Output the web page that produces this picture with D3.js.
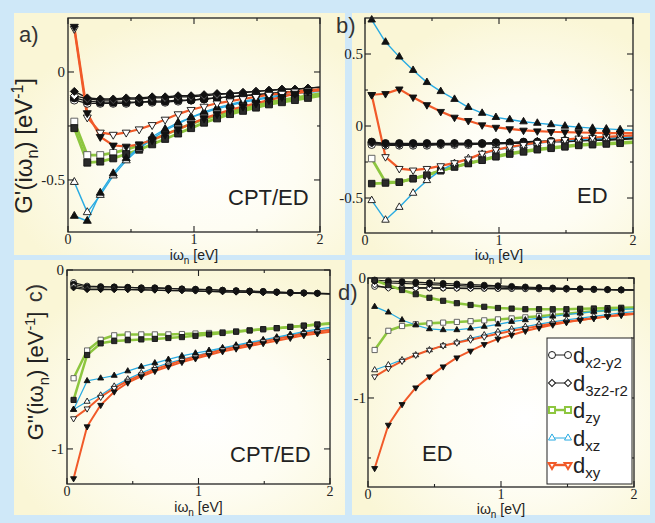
<!DOCTYPE html>
<html>
<head>
<meta charset="utf-8">
<script src="https://cdn.jsdelivr.net/npm/d3@7"></script>
<style>
  body { margin: 0; background: #cfe8f8; }
  svg { display: block; }
</style>
</head>
<body>
<svg id="fig" width="655" height="523"></svg>
<script>
// Matsubara frequencies (eV); lines run on to xEnd
const omegaN = [0.05, 0.153, 0.256, 0.359, 0.462, 0.565, 0.668, 0.771, 0.874, 0.977,
  1.08, 1.183, 1.286, 1.389, 1.492, 1.595, 1.698, 1.801, 1.904];
const xEnd = 2;

const orbitals = ["x2-y2", "3z2-r2", "zy", "xz", "xy"];

// a) G'(iw_n), CPT/ED   [orbital, filled marker, values at omegaN + end]
const seriesA = [
  ["x2-y2", false, [-0.13,-0.145,-0.145,-0.145,-0.145,-0.14,-0.14,-0.14,-0.135,-0.13,-0.125,-0.12,-0.115,-0.11,-0.105,-0.10,-0.095,-0.09,-0.085,-0.08]],
  ["x2-y2", true,  [-0.12,-0.135,-0.14,-0.14,-0.14,-0.14,-0.135,-0.135,-0.13,-0.13,-0.125,-0.12,-0.115,-0.11,-0.105,-0.10,-0.095,-0.09,-0.085,-0.08]],
  ["3z2-r2", false, [-0.11,-0.125,-0.13,-0.13,-0.125,-0.125,-0.12,-0.12,-0.115,-0.115,-0.11,-0.105,-0.10,-0.095,-0.09,-0.085,-0.08,-0.08,-0.075,-0.07]],
  ["3z2-r2", true,  [-0.09,-0.12,-0.125,-0.125,-0.12,-0.12,-0.115,-0.115,-0.11,-0.11,-0.105,-0.10,-0.10,-0.095,-0.09,-0.085,-0.08,-0.08,-0.075,-0.07]],
  ["zy", false, [-0.23,-0.385,-0.385,-0.375,-0.36,-0.34,-0.315,-0.29,-0.265,-0.24,-0.22,-0.20,-0.185,-0.17,-0.155,-0.14,-0.13,-0.12,-0.11,-0.10]],
  ["zy", true,  [-0.26,-0.42,-0.415,-0.40,-0.38,-0.36,-0.335,-0.31,-0.285,-0.26,-0.235,-0.215,-0.195,-0.18,-0.165,-0.15,-0.14,-0.13,-0.12,-0.11]],
  ["xz", false, [-0.51,-0.65,-0.57,-0.48,-0.41,-0.355,-0.31,-0.27,-0.24,-0.21,-0.19,-0.17,-0.155,-0.14,-0.13,-0.12,-0.11,-0.10,-0.095,-0.09]],
  ["xz", true,  [-0.667,-0.69,-0.56,-0.47,-0.40,-0.35,-0.30,-0.265,-0.235,-0.21,-0.185,-0.165,-0.15,-0.135,-0.125,-0.115,-0.105,-0.10,-0.09,-0.085]],
  ["xy", false, [0.20,-0.21,-0.28,-0.29,-0.28,-0.265,-0.245,-0.22,-0.195,-0.175,-0.16,-0.145,-0.135,-0.125,-0.115,-0.105,-0.10,-0.09,-0.085,-0.08]],
  ["xy", true,  [0.21,-0.19,-0.30,-0.34,-0.345,-0.335,-0.315,-0.29,-0.265,-0.24,-0.215,-0.195,-0.175,-0.16,-0.145,-0.13,-0.115,-0.10,-0.09,-0.085]]
];

// b) G'(iw_n), ED
const seriesB = [
  ["x2-y2", false, [-0.13,-0.135,-0.135,-0.135,-0.135,-0.13,-0.13,-0.13,-0.125,-0.125,-0.12,-0.12,-0.115,-0.11,-0.11,-0.105,-0.10,-0.10,-0.095,-0.09]],
  ["x2-y2", true,  [-0.11,-0.12,-0.12,-0.12,-0.12,-0.12,-0.12,-0.12,-0.12,-0.115,-0.115,-0.11,-0.11,-0.105,-0.10,-0.10,-0.095,-0.09,-0.09,-0.085]],
  ["3z2-r2", false, [-0.12,-0.13,-0.13,-0.13,-0.13,-0.128,-0.125,-0.125,-0.12,-0.12,-0.115,-0.115,-0.11,-0.105,-0.105,-0.10,-0.095,-0.095,-0.09,-0.085]],
  ["3z2-r2", true,  [-0.115,-0.125,-0.125,-0.125,-0.125,-0.125,-0.12,-0.12,-0.12,-0.115,-0.115,-0.11,-0.105,-0.105,-0.10,-0.095,-0.095,-0.09,-0.085,-0.08]],
  ["zy", false, [-0.226,-0.39,-0.39,-0.365,-0.34,-0.31,-0.285,-0.26,-0.235,-0.21,-0.19,-0.175,-0.16,-0.15,-0.14,-0.13,-0.125,-0.12,-0.115,-0.11]],
  ["zy", true,  [-0.40,-0.396,-0.39,-0.366,-0.343,-0.31,-0.284,-0.26,-0.238,-0.214,-0.195,-0.18,-0.165,-0.155,-0.145,-0.135,-0.13,-0.125,-0.12,-0.115]],
  ["xz", false, [-0.517,-0.653,-0.564,-0.466,-0.378,-0.308,-0.26,-0.226,-0.196,-0.168,-0.15,-0.135,-0.12,-0.11,-0.10,-0.095,-0.09,-0.085,-0.08,-0.075]],
  ["xz", true,  [0.737,0.583,0.48,0.387,0.303,0.24,0.186,0.13,0.089,0.06,0.045,0.03,0.02,0.01,0.0,-0.008,-0.015,-0.02,-0.025,-0.03]],
  ["xy", false, [0.217,-0.214,-0.296,-0.307,-0.296,-0.277,-0.256,-0.23,-0.19,-0.165,-0.145,-0.13,-0.115,-0.105,-0.095,-0.085,-0.08,-0.075,-0.07,-0.065]],
  ["xy", true,  [0.217,0.224,0.256,0.2,0.147,0.1,0.06,0.037,0.007,-0.01,-0.02,-0.03,-0.035,-0.04,-0.042,-0.045,-0.047,-0.05,-0.05,-0.05]]
];

// c) G''(iw_n), CPT/ED
const seriesC = [
  ["x2-y2", false, [-0.07,-0.09,-0.093,-0.095,-0.097,-0.1,-0.1,-0.103,-0.106,-0.108,-0.11,-0.113,-0.116,-0.118,-0.12,-0.123,-0.126,-0.128,-0.13,-0.132]],
  ["x2-y2", true,  [-0.08,-0.095,-0.095,-0.095,-0.097,-0.1,-0.1,-0.103,-0.106,-0.108,-0.11,-0.113,-0.116,-0.118,-0.12,-0.123,-0.126,-0.128,-0.13,-0.132]],
  ["3z2-r2", false, [-0.09,-0.105,-0.107,-0.108,-0.109,-0.11,-0.112,-0.114,-0.115,-0.117,-0.119,-0.121,-0.123,-0.125,-0.127,-0.128,-0.13,-0.131,-0.132,-0.134]],
  ["3z2-r2", true,  [-0.1,-0.11,-0.11,-0.11,-0.11,-0.112,-0.113,-0.115,-0.116,-0.118,-0.12,-0.122,-0.124,-0.125,-0.127,-0.128,-0.13,-0.131,-0.132,-0.134]],
  ["zy", false, [-0.605,-0.45,-0.39,-0.365,-0.36,-0.36,-0.36,-0.36,-0.358,-0.355,-0.352,-0.348,-0.343,-0.337,-0.331,-0.325,-0.318,-0.311,-0.304,-0.298]],
  ["zy", true,  [-0.726,-0.475,-0.41,-0.397,-0.392,-0.388,-0.385,-0.38,-0.375,-0.368,-0.36,-0.352,-0.345,-0.338,-0.331,-0.325,-0.318,-0.311,-0.305,-0.30]],
  ["xz", false, [-0.78,-0.735,-0.70,-0.65,-0.61,-0.575,-0.545,-0.52,-0.50,-0.48,-0.46,-0.44,-0.425,-0.41,-0.395,-0.38,-0.365,-0.35,-0.34,-0.33]],
  ["xz", true,  [-0.78,-0.62,-0.605,-0.59,-0.565,-0.54,-0.52,-0.50,-0.48,-0.465,-0.45,-0.435,-0.42,-0.405,-0.39,-0.375,-0.36,-0.345,-0.33,-0.32]],
  ["xy", false, [-0.83,-0.775,-0.71,-0.66,-0.62,-0.585,-0.555,-0.53,-0.505,-0.485,-0.465,-0.445,-0.43,-0.415,-0.40,-0.385,-0.37,-0.355,-0.345,-0.335]],
  ["xy", true,  [-1.165,-0.875,-0.755,-0.68,-0.63,-0.595,-0.565,-0.54,-0.515,-0.495,-0.475,-0.455,-0.44,-0.425,-0.41,-0.395,-0.38,-0.365,-0.355,-0.345]]
];

// d) G''(iw_n), ED
const seriesD = [
  ["x2-y2", false, [-0.07,-0.078,-0.08,-0.08,-0.082,-0.083,-0.084,-0.085,-0.086,-0.087,-0.088,-0.089,-0.09,-0.091,-0.092,-0.094,-0.096,-0.098,-0.1,-0.1]],
  ["x2-y2", true,  [-0.017,-0.025,-0.03,-0.035,-0.04,-0.045,-0.05,-0.055,-0.06,-0.065,-0.07,-0.075,-0.08,-0.083,-0.087,-0.09,-0.093,-0.096,-0.099,-0.1]],
  ["3z2-r2", false, [-0.058,-0.086,-0.085,-0.085,-0.085,-0.086,-0.087,-0.088,-0.089,-0.09,-0.091,-0.092,-0.093,-0.094,-0.095,-0.096,-0.097,-0.098,-0.099,-0.1]],
  ["3z2-r2", true,  [-0.03,-0.04,-0.045,-0.05,-0.055,-0.06,-0.064,-0.068,-0.072,-0.075,-0.078,-0.081,-0.084,-0.087,-0.09,-0.092,-0.094,-0.096,-0.098,-0.1]],
  ["zy", false, [-0.60,-0.44,-0.40,-0.385,-0.378,-0.372,-0.366,-0.36,-0.353,-0.345,-0.337,-0.328,-0.318,-0.308,-0.298,-0.288,-0.278,-0.268,-0.258,-0.25]],
  ["zy", true,  [-0.02,-0.06,-0.1,-0.135,-0.165,-0.19,-0.21,-0.225,-0.24,-0.25,-0.255,-0.26,-0.26,-0.26,-0.26,-0.257,-0.254,-0.251,-0.248,-0.245]],
  ["xz", false, [-0.767,-0.725,-0.683,-0.642,-0.6,-0.564,-0.536,-0.503,-0.475,-0.447,-0.425,-0.405,-0.385,-0.365,-0.35,-0.335,-0.32,-0.305,-0.29,-0.28]],
  ["xz", true,  [-0.239,-0.286,-0.35,-0.392,-0.425,-0.433,-0.433,-0.42,-0.405,-0.386,-0.364,-0.35,-0.335,-0.32,-0.305,-0.292,-0.28,-0.27,-0.262,-0.258]],
  ["xy", false, [-0.822,-0.753,-0.692,-0.642,-0.6,-0.564,-0.54,-0.515,-0.49,-0.465,-0.44,-0.42,-0.40,-0.38,-0.365,-0.35,-0.335,-0.32,-0.305,-0.295]],
  ["xy", true,  [-1.586,-1.225,-1.053,-0.914,-0.822,-0.739,-0.664,-0.608,-0.553,-0.508,-0.475,-0.442,-0.415,-0.39,-0.37,-0.35,-0.335,-0.32,-0.31,-0.30]]
];

const xMajor = [0, 1, 2];
const xMinor = [0.5, 1.5];

// styling
const orbStyle = {
  "x2-y2":  { color: "#1a1a1a", width: 1.3, shape: "circle" },
  "3z2-r2": { color: "#1a1a1a", width: 1.3, shape: "diamond" },
  "zy":     { color: "#8dc63f", width: 2.8, shape: "square" },
  "xz":     { color: "#29abe2", width: 1.4, shape: "triangle" },
  "xy":     { color: "#f15a29", width: 2.2, shape: "down" }
};

const serif = "'Liberation Serif', 'DejaVu Serif', serif";
const sans = "'Liberation Sans', Arial, sans-serif";

const svg = d3.select("#fig");
const defs = svg.append("defs");
const grad = defs.append("radialGradient").attr("id", "glow")
  .attr("cx", "58%").attr("cy", "62%").attr("r", "62%");
grad.append("stop").attr("offset", "0%").attr("stop-color", "#ffffff");
grad.append("stop").attr("offset", "45%").attr("stop-color", "#fefdf3");
grad.append("stop").attr("offset", "100%").attr("stop-color", "#faf6d6");

svg.append("rect").attr("width", 655).attr("height", 523).attr("fill", "#cfe8f8");

// yellow panel cards
[[14, 13, 331, 242], [352, 13, 298, 242], [14, 260, 331, 255], [352, 260, 298, 255]].forEach(b => {
  svg.append("rect").attr("x", b[0]).attr("y", b[1]).attr("width", b[2]).attr("height", b[3])
    .attr("fill", "url(#glow)");
});

function markerPath(shape, w) {
  if (shape === "circle") return d3.symbol(d3.symbolCircle, Math.PI * w * w / 4)();
  if (shape === "square") return d3.symbol(d3.symbolSquare, w * w * 0.75)();
  if (shape === "diamond") return d3.symbol(d3.symbolSquare, w * w * 0.5)();
  return d3.symbol(d3.symbolTriangle, w * w * Math.sqrt(3) / 4)();
}
function markerRot(shape) {
  return shape === "diamond" ? 45 : shape === "down" ? 180 : 0;
}

const panels = [
  { id: "a", series: seriesA, xr: [68, 320], yr: [18, 232], yd: [-0.741, 0.25],
    yMajor: [-0.5, 0], yMinor: [-0.25], ms: 8, lw: 1, titleY: 260, yLabGap: 3 },
  { id: "b", series: seriesB, xr: [365, 633], yr: [18, 233], yd: [-0.743, 0.75],
    yMajor: [-0.5, 0, 0.5], yMinor: [-0.25, 0.25], ms: 7.5, lw: 1, titleY: 260, yLabGap: 2 },
  { id: "c", series: seriesC, xr: [67, 330], yr: [270, 484], yd: [-1.196, 0],
    yMajor: [-1, 0], yMinor: [-0.5], ms: 6, lw: 0.9, titleY: 512, yLabGap: 3 },
  { id: "d", series: seriesD, xr: [368, 634], yr: [278, 487], yd: [-1.742, 0],
    yMajor: [-1, 0], yMinor: [-0.5, -1.5], ms: 6, lw: 0.9, titleY: 514, yLabGap: 2 }
];

panels.forEach(p => {
  const x = d3.scaleLinear().domain([0, 2]).range(p.xr);
  const y = d3.scaleLinear().domain(p.yd).range([p.yr[1], p.yr[0]]);
  const g = svg.append("g");

  defs.append("clipPath").attr("id", "clip-" + p.id).append("rect")
    .attr("x", p.xr[0]).attr("y", p.yr[0])
    .attr("width", p.xr[1] - p.xr[0]).attr("height", p.yr[1] - p.yr[0]);

  const line = d3.line().x(d => x(d[0])).y(d => y(d[1]));
  const plot = g.append("g").attr("clip-path", "url(#clip-" + p.id + ")");

  orbitals.forEach(orb => {
    const st = orbStyle[orb];
    p.series.filter(s => s[0] === orb).forEach(s => {
      const pts = s[2].map((v, i) => [i < omegaN.length ? omegaN[i] : xEnd, v]);
      plot.append("path").attr("d", line(pts)).attr("fill", "none")
        .attr("stroke", st.color).attr("stroke-width", st.width * p.lw)
        .attr("stroke-linejoin", "round");
      g.selectAll(null).data(pts.slice(0, omegaN.length)).enter().append("path")
        .attr("d", markerPath(st.shape, p.ms))
        .attr("transform", d => `translate(${x(d[0])},${y(d[1])}) rotate(${markerRot(st.shape)})`)
        .attr("fill", s[1] ? (orb === "zy" ? "#2a2a2a" : "#111") : "#fff")
        .attr("stroke", orb === "zy" && !s[1] ? "#555" : "#111")
        .attr("stroke-width", 0.9);
    });
  });

  // frame
  g.append("rect").attr("x", p.xr[0]).attr("y", p.yr[0])
    .attr("width", p.xr[1] - p.xr[0]).attr("height", p.yr[1] - p.yr[0])
    .attr("fill", "none").attr("stroke", "#222").attr("stroke-width", 1.3);

  const tk = g.append("g").attr("stroke", "#222").attr("stroke-width", 1.1);
  const xt = xMajor.map(v => [v, 6]).concat(xMinor.map(v => [v, 3]));
  xt.forEach(([v, len]) => {
    tk.append("line").attr("x1", x(v)).attr("x2", x(v)).attr("y1", p.yr[1]).attr("y2", p.yr[1] - len);
    tk.append("line").attr("x1", x(v)).attr("x2", x(v)).attr("y1", p.yr[0]).attr("y2", p.yr[0] + len);
  });
  const yt = p.yMajor.map(v => [v, 6]).concat(p.yMinor.map(v => [v, 3]));
  yt.forEach(([v, len]) => {
    tk.append("line").attr("y1", y(v)).attr("y2", y(v)).attr("x1", p.xr[0]).attr("x2", p.xr[0] + len);
    tk.append("line").attr("y1", y(v)).attr("y2", y(v)).attr("x1", p.xr[1]).attr("x2", p.xr[1] - len);
  });

  g.selectAll(null).data(xMajor).enter().append("text")
    .attr("x", d => x(d)).attr("y", p.yr[1] + 12)
    .attr("text-anchor", "middle").attr("font-family", serif).attr("font-size", 14)
    .attr("fill", "#222").text(d => d);
  g.selectAll(null).data(p.yMajor).enter().append("text")
    .attr("x", p.xr[0] - p.yLabGap).attr("y", d => y(d)).attr("dy", "0.33em")
    .attr("text-anchor", "end").attr("font-family", serif).attr("font-size", 15)
    .attr("fill", "#222").text(d => d);

  // x axis title
  const xl = svg.append("text").attr("x", x(1)).attr("y", p.titleY)
    .attr("text-anchor", "middle").attr("font-family", sans).attr("font-size", 14).attr("fill", "#222");
  xl.append("tspan").text("iω");
  xl.append("tspan").attr("dy", 4).attr("font-size", 10).text("n");
  xl.append("tspan").attr("dy", -4).text(" [eV]");
});

// CPT / ED tags
[["CPT/ED", 228, 205], ["ED", 577, 203], ["CPT/ED", 230, 462], ["ED", 422, 461]].forEach(t => {
  svg.append("text").attr("x", t[1]).attr("y", t[2]).attr("font-family", sans)
    .attr("font-size", 22).attr("fill", "#222").text(t[0]);
});

// panel letters
[["a)", 19, 42], ["b)", 336, 33], ["d)", 338, 300]].forEach(t => {
  svg.append("text").attr("x", t[1]).attr("y", t[2]).attr("font-family", sans)
    .attr("font-size", 22).attr("fill", "#333").text(t[0]);
});

function yTitle(cx, cy, size, prime) {
  const t = svg.append("text").attr("transform", `translate(${cx},${cy}) rotate(-90)`)
    .attr("text-anchor", "middle").attr("font-family", sans).attr("font-size", size).attr("fill", "#222");
  t.append("tspan").text("G" + prime + "(iω");
  t.append("tspan").attr("dy", size * 0.25).attr("font-size", size * 0.68).text("n");
  t.append("tspan").attr("dy", -size * 0.25).text(") [eV");
  t.append("tspan").attr("dy", -size * 0.38).attr("font-size", size * 0.65).text("-1");
  t.append("tspan").attr("dy", size * 0.38).text("]");
}
yTitle(32, 146, 24, "'");
yTitle(43, 376, 22, "''");
svg.append("text").attr("transform", "translate(42,293) rotate(-90)")
  .attr("text-anchor", "middle").attr("font-family", sans).attr("font-size", 22)
  .attr("fill", "#333").text("c)");

// legend (panel d)
const leg = svg.append("g");
leg.append("rect").attr("x", 547).attr("y", 338).attr("width", 85).attr("height", 146)
  .attr("fill", "#fff").attr("stroke", "#222").attr("stroke-width", 1);
const legBase = [363, 391, 418, 446, 473];
const legSub = ["x2-y2", "3z2-r2", "zy", "xz", "xy"];
orbitals.forEach((orb, i) => {
  const st = orbStyle[orb];
  const yy = legBase[i] - 8;
  const heavy = orb === "zy" || orb === "xy";
  leg.append("line").attr("x1", 552).attr("x2", 568).attr("y1", yy).attr("y2", yy)
    .attr("stroke", st.color).attr("stroke-width", heavy ? 2.4 : 1);
  [552, 568].forEach(mx => {
    leg.append("path").attr("d", markerPath(st.shape, 7))
      .attr("transform", `translate(${mx},${yy}) rotate(${markerRot(st.shape)})`)
      .attr("fill", "#fff").attr("stroke", st.color).attr("stroke-width", heavy ? 2 : 1);
  });
  const t = leg.append("text").attr("x", 573).attr("y", legBase[i]).attr("font-family", sans)
    .attr("font-size", 22).attr("fill", "#222");
  t.append("tspan").text("d");
  t.append("tspan").attr("dy", 5).attr("font-size", 15).text(legSub[i]);
});
</script>
</body>
</html>
